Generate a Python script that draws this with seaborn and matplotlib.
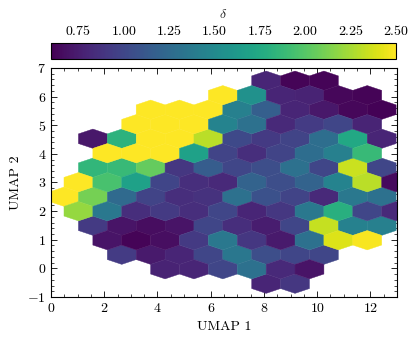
import numpy as np
import seaborn as sns
import matplotlib.pyplot as plt

# hex centres along UMAP 1 (two interleaved lattices) and UMAP 2 rows, top -> bottom
umap1_even = [0.49, 1.57, 2.66, 3.74, 4.83, 5.91, 7.00, 8.08, 9.17, 10.25, 11.34, 12.42]
umap1_odd = [1.03, 2.12, 3.20, 4.29, 5.37, 6.46, 7.54, 8.63, 9.71, 10.80, 11.88, 12.97]
umap2_rows = [6.555, 6.05, 5.543, 5.04, 4.53, 4.02, 3.517, 3.01, 2.504, 2.0, 1.49, 0.98, 0.477, -0.03, -0.536]

N = np.nan
# delta per hex, one list per row (even rows use umap1_even, odd rows umap1_odd)
delta_rows = [
    [N, N, N, N, N, N, N, 0.80, 0.62, 0.62, N, N],
    [N, N, N, N, N, 2.60, 1.55, 0.80, 0.78, 0.63, 0.62, N],
    [N, N, N, 2.60, 2.60, 2.60, 1.42, 1.17, 0.80, 0.72, 0.63, 0.61],
    [N, N, 2.60, 2.60, 2.60, 1.45, 1.30, 0.82, 0.93, 1.00, 0.79, N],
    [N, 0.72, 1.82, 2.60, 2.60, 2.30, 1.02, 0.92, 0.98, 1.28, 1.74, 0.80],
    [N, 2.60, 2.60, 2.60, 1.68, 0.98, 0.85, 0.98, 1.27, 1.42, 1.88, N],
    [N, 1.85, 1.88, 2.05, 0.90, 1.15, 1.00, 1.05, 1.30, 1.00, 2.35, 1.00],
    [2.60, 1.95, 1.68, 0.99, 0.85, 0.82, 1.20, 1.05, 1.20, 1.45, 2.30, 0.65],
    [2.60, 2.10, 1.25, 0.98, 0.85, 0.87, 1.30, 1.07, 0.98, 0.82, 1.36, 1.30],
    [2.20, 1.36, 0.85, 0.92, 0.85, 1.00, 0.80, 0.90, 1.36, 1.80, 1.00, 0.82],
    [N, 0.92, 0.70, 0.66, 0.70, 1.00, 0.85, 0.75, 1.00, 2.33, 1.43, 1.42],
    [N, 0.70, 0.62, 0.67, 0.92, 1.36, 0.90, 0.73, 1.30, 2.40, 2.48, N],
    [N, N, 0.93, 0.73, 0.80, 1.00, 1.35, 1.05, 1.00, 1.00, N, N],
    [N, N, N, 0.78, 0.80, 1.00, 1.30, 0.82, 0.70, N, N, N],
    [N, N, N, N, N, N, N, 0.80, 0.90, N, N, N],
]

xs, ys, cs = [], [], []
for r, (yv, vals) in enumerate(zip(umap2_rows, delta_rows)):
    cols = umap1_even if r % 2 == 0 else umap1_odd
    for xv, v in zip(cols, vals):
        if not np.isnan(v):
            xs.append(xv)
            ys.append(yv)
            cs.append(v)

sns.set_theme(style='ticks')
plt.rcParams['font.family'] = 'cmr10'
plt.rcParams['mathtext.fontset'] = 'cm'
plt.rcParams['axes.formatter.use_mathtext'] = True
plt.rcParams['font.size'] = 10
plt.rcParams['axes.linewidth'] = 0.8
plt.rcParams['axes.edgecolor'] = 'black'

fig = plt.figure(figsize=(4.16, 3.42), dpi=100)
ax = fig.add_axes([0.1226, 0.1316, 0.8318, 0.6696])
cax = fig.add_axes([0.1226, 0.8266, 0.8294, 0.0485])

hb = ax.hexbin(xs, ys, C=cs, gridsize=(12, 7), extent=(0.488, 13.508, -0.536, 6.555),
               cmap=sns.color_palette('viridis', as_cmap=True), vmin=0.6, vmax=2.5,
               linewidths=0.3, edgecolors='face')

ax.set_xlim(0, 13)
ax.set_ylim(-1, 7)
ax.set_xticks(range(0, 13, 2))
ax.set_yticks(range(-1, 8))
ax.minorticks_on()
ax.tick_params(which='both', direction='in', top=True, right=True, colors='black', labelsize=10)
ax.tick_params(which='major', length=4, width=0.6)
ax.tick_params(which='minor', length=2, width=0.5)
ax.set_xlabel('UMAP 1', fontsize=10, color='black')
ax.set_ylabel('UMAP 2', fontsize=10, color='black')

cb = fig.colorbar(hb, cax=cax, orientation='horizontal')
cb.set_ticks([0.75, 1.0, 1.25, 1.5, 1.75, 2.0, 2.25, 2.5])
cax.xaxis.set_ticks_position('top')
cax.xaxis.set_label_position('top')
cax.minorticks_on()
cax.tick_params(which='both', direction='in', colors='black', labelsize=10)
cax.tick_params(which='major', length=4, width=0.6)
cax.tick_params(which='minor', length=2, width=0.5)
cb.set_label(r'$\delta$', fontsize=10)
cb.outline.set_linewidth(0.8)

fig.savefig('out.png', dpi=100)
